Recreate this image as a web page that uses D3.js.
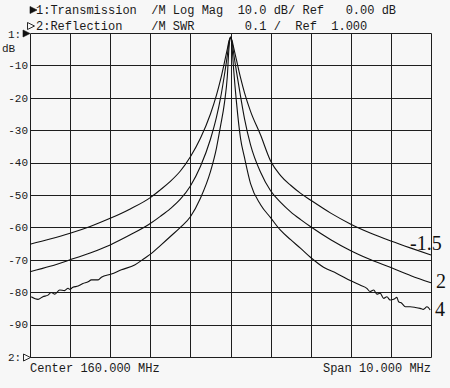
<!DOCTYPE html>
<html>
<head>
<meta charset="utf-8">
<script src="https://cdn.jsdelivr.net/npm/d3@7"></script>
<style>
    body { margin: 0; background: #f7f7f7; }
    svg { display: block; }
    .mono { font-family: "Liberation Mono", "DejaVu Sans Mono", monospace; white-space: pre; fill: #1a1a1a; }
</style>
</head>
<body>
<svg id="chart"></svg>
<script>
"use strict";

// frequency points (MHz) for the two smooth traces
const freq_mhz = [
    155, 155.5, 156, 156.5, 157, 157.5, 158, 158.25, 158.5, 158.75,
    159, 159.25, 159.5, 159.65, 159.75, 159.85, 159.92, 159.96, 160, 160.04,
    160.08, 160.15, 160.25, 160.35, 160.5, 160.75, 161, 161.25, 161.5, 161.75,
    162, 162.5, 163, 163.5, 164, 164.5, 165
];
const trace_m15 = [
    -65.2, -63.6, -61.8, -59.7, -57.2, -54.3, -50.8, -48.4, -45.8, -42.6,
    -38.2, -32.5, -25.0, -19.2, -14.5, -9.0, -5.0, -2.6, -1.5, -2.4,
    -4.6, -8.4, -13.8, -18.5, -24.2, -31.5, -39.5, -44.0, -47.0, -49.5,
    -51.6, -55.6, -59.0, -61.8, -64.2, -66.4, -68.5
];
const trace_2 = [
    -73.7, -72.0, -70.0, -67.9, -65.4, -62.3, -58.8, -56.6, -54.2, -51.3,
    -47.2, -41.2, -32.8, -26.0, -20.2, -12.8, -7.0, -3.0, -1.3, -2.8,
    -6.4, -12.0, -19.5, -26.5, -34.5, -43.0, -48.7, -52.3, -55.2, -57.6,
    -59.8, -63.8, -67.2, -70.0, -72.4, -74.9, -77.1
];

// the narrow trace is noisy at the skirts, so it has its own frequency points
const freq_mhz_4 = [
    155.03, 155.20, 155.32, 155.45, 155.53, 155.62, 155.74, 155.86, 155.95, 155.99,
    156.07, 156.20, 156.32, 156.45, 156.53, 156.70, 156.78, 157.03, 157.28, 157.61,
    157.86, 158.03, 158.25, 158.5, 158.75, 159, 159.25, 159.5, 159.65, 159.75,
    159.85, 159.92, 159.96, 160, 160.04, 160.08, 160.15, 160.25, 160.35, 160.5,
    160.75, 161, 161.24, 161.5, 161.75, 162.00, 162.32, 162.65, 163.00, 163.23,
    163.40, 163.48, 163.57, 163.65, 163.73, 163.82, 163.90, 163.98, 164.07, 164.15,
    164.19, 164.27, 164.36, 164.48, 164.61, 164.73, 164.81, 164.90, 164.98
];
const trace_4 = [
    -81.4, -82.2, -81.4, -80.9, -80.1, -80.6, -79.3, -79.5, -78.8, -79.1,
    -78.5, -78.1, -77.3, -76.8, -76.2, -76.2, -75.4, -74.4, -73.1, -71.6,
    -69.5, -68.0, -65.6, -62.8, -60.0, -56.7, -51.0, -42.8, -35.5, -28.8,
    -21.5, -13.5, -5.0, -1.2, -4.6, -11.5, -21.5, -32.5, -38.5, -46.5,
    -53.0, -57.0, -60.8, -63.8, -66.5, -69.3, -72.3, -74.2, -76.5, -77.8,
    -78.8, -79.8, -79.3, -80.6, -80.3, -81.9, -81.4, -82.4, -82.2, -81.6,
    -82.9, -83.4, -84.5, -84.5, -84.7, -85.0, -85.3, -84.5, -85.5
];

const curve_labels = ["-1.5", "2", "4"];
const y_ticks = [-10, -20, -30, -40, -50, -60, -70, -80, -90];

const header_1 = "1:Transmission  /M Log Mag  10.0 dB/ Ref   0.00 dB";
const header_2 = "2:Reflection    /M SWR       0.1 /  Ref  1.000";
const footer_left = "Center 160.000 MHz";
const footer_right = "Span 10.000 MHz";

const width = 450;
const height = 388;
const plot_left = 30;
const plot_right = 431;
const plot_top = 33;
const plot_bottom = 357;

const svg = d3.select("#chart")
    .attr("width", width)
    .attr("height", height);

const x = d3.scaleLinear().domain([155, 165]).range([plot_left, plot_right]);
const y = d3.scaleLinear().domain([0, -100]).range([plot_top, plot_bottom]);

// snap a grid line to the pixel grid so it draws as a crisp 1px line
const snap = v => Math.round(v) + 0.5;

// grid: 10 x 10 divisions
const grid = svg.append("g")
    .attr("stroke", "#1e1e1e")
    .attr("stroke-width", 1)
    .attr("fill", "none");

grid.selectAll(".vline")
    .data(d3.range(155, 165.01, 1))
    .enter().append("line")
    .attr("x1", d => snap(x(d))).attr("x2", d => snap(x(d)))
    .attr("y1", snap(plot_top)).attr("y2", snap(plot_bottom));

grid.selectAll(".hline")
    .data(d3.range(0, -100.01, -10))
    .enter().append("line")
    .attr("x1", snap(plot_left)).attr("x2", snap(plot_right))
    .attr("y1", d => snap(y(d))).attr("y2", d => snap(y(d)));

// y tick labels
svg.selectAll(".ytick")
    .data(y_ticks)
    .enter().append("text")
    .attr("class", "mono")
    .attr("x", 28)
    .attr("y", d => y(d))
    .attr("dy", "0.35em")
    .attr("text-anchor", "end")
    .style("font-size", "11px")
    .text(d => d);

svg.append("text").attr("class", "mono")
    .attr("x", 8).attr("y", 38).style("font-size", "11px").text("1:");
svg.append("text").attr("class", "mono")
    .attr("x", 2).attr("y", 52).style("font-size", "11px").text("dB");
svg.append("text").attr("class", "mono")
    .attr("x", 8).attr("y", 361).style("font-size", "11px").text("2:");

function triangle(cx, cy, filled) {
    svg.append("path")
        .attr("d", `M${cx},${cy - 3.5}L${cx + 7},${cy}L${cx},${cy + 3.5}Z`)
        .attr("fill", filled ? "#111" : "none")
        .attr("stroke", "#111")
        .attr("stroke-width", filled ? 0.6 : 0.9);
}
triangle(23, plot_top + 0.5, true);
triangle(23.5, plot_bottom + 0.5, false);
triangle(30, 10, true);
triangle(27.5, 26, false);

// header and footer
svg.append("text").attr("class", "mono")
    .attr("x", 36).attr("y", 14).style("font-size", "12px").text(header_1);
svg.append("text").attr("class", "mono")
    .attr("x", 36).attr("y", 30).style("font-size", "12px").text(header_2);
svg.append("text").attr("class", "mono")
    .attr("x", plot_left).attr("y", 372).style("font-size", "12px").text(footer_left);
svg.append("text").attr("class", "mono")
    .attr("x", plot_right).attr("y", 372).attr("text-anchor", "end")
    .style("font-size", "12px").text(footer_right);

// traces
const line = d3.line()
    .x(d => x(d[0]))
    .y(d => y(d[1]))
    .curve(d3.curveMonotoneX);

const traces = [
    d3.zip(freq_mhz, trace_m15),
    d3.zip(freq_mhz, trace_2),
    d3.zip(freq_mhz_4, trace_4)
];

svg.selectAll(".trace")
    .data(traces)
    .enter().append("path")
    .attr("class", "trace")
    .attr("fill", "none")
    .attr("stroke", "#111")
    .attr("stroke-width", 1.1)
    .attr("d", line);

// labels at the right end of each trace
const label_pos = [
    { dx: -21, dy: -5 },
    { dx: 5, dy: 5.5 },
    { dx: 4, dy: 5.5 }
];
svg.selectAll(".clabel")
    .data(traces)
    .enter().append("text")
    .attr("x", (d, i) => x(165) + label_pos[i].dx)
    .attr("y", (d, i) => y(d[d.length - 1][1]) + label_pos[i].dy)
    .style("font-family", "'Liberation Serif', 'Times New Roman', serif")
    .style("font-size", "20px")
    .attr("fill", "#111")
    .text((d, i) => curve_labels[i]);
</script>
</body>
</html>
